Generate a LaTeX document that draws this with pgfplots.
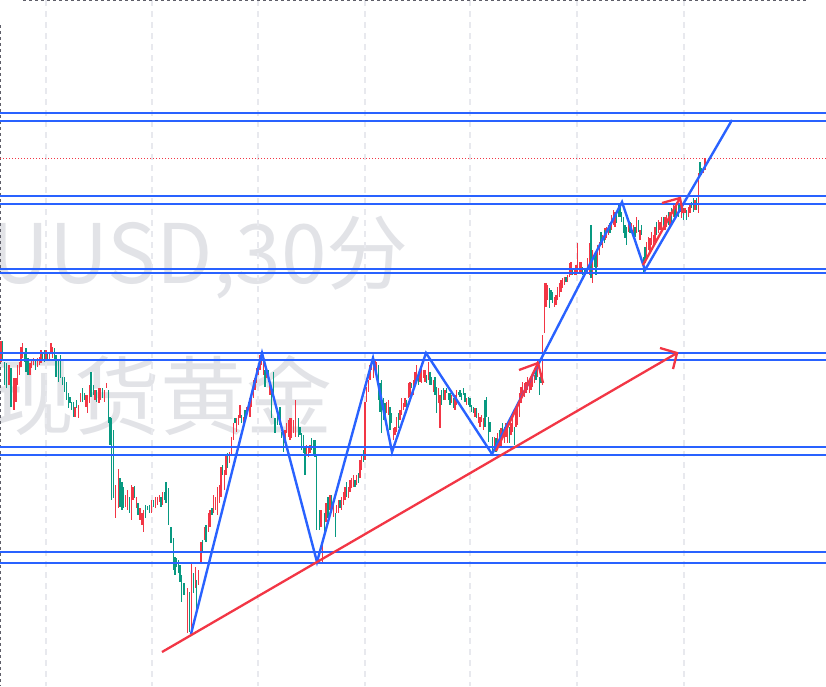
\documentclass[border=0pt]{standalone}
\usepackage{pgfplots}
\usepackage{pgfplotstable}
\usepackage{fontspec}
\pgfplotsset{compat=1.18}
\newfontfamily\cjk{Noto Sans CJK SC}
\definecolor{upc}{RGB}{242,54,69}
\definecolor{downc}{RGB}{8,153,129}
\definecolor{bluec}{RGB}{41,98,255}
\definecolor{gridc}{RGB}{232,233,238}
\definecolor{wmc}{RGB}{226,227,231}
\definecolor{framec}{RGB}{95,95,105}

\pgfplotstableread{
x t b
1 341 362
9 365 385
14 378 410
16 378 402
17.7 365 385
19.3 362 375
21 347 367
22.7 343 358
30 363 375
31.7 360 368
33.3 358 365
37.3 358 367
39.3 357 365
41 350 363
46 350 360
49.3 352 360
51 343 352
52.7 347 358
75 407 417
78.7 405 418
80.7 393 402
86 395 407
87.7 395 413
89.3 385 403
95 390 400
99 388 403
100.7 388 400
104.3 390 402
106.3 383 388
115.7 485 518
118.3 469 508
125.7 495 507
127.7 490 510
131.3 485 520
133 487 500
136.3 497 508
140 508 520
142 513 525
143.7 510 532
151.3 500 513
155.3 497 508
157.3 497 505
159.3 495 502
162.7 492 505
187.3 588 633
191.3 563 633
195.3 567 588
198.7 570 585
201 542 563
204.3 527 540
208.3 513 532
210 510 527
213.7 495 513
215.7 497 510
217.3 487 515
219.3 485 503
221 467 497
224.3 470 490
226 455 475
229.3 452 463
231.7 437 455
233.3 423 440
236.7 418 432
238.3 415 425
240 405 418
243.3 417 428
246.7 407 418
248.3 402 408
250 398 417
251.7 392 407
253.3 380 398
255 378 390
256.7 368 383
258.3 365 375
260 355 370
261.7 353 365
263.3 360 375
266.7 373 378
270 383 395
285 430 443
286.7 423 433
288.3 420 437
290 418 440
291.7 418 438
293.3 420 433
295.3 400 437
306.7 445 455
308.7 447 457
310 445 453
321 510 527
322.3 540 562
326 503 522
330 495 510
333.3 500 517
336.7 505 513
338.3 500 513
341.7 497 510
343.3 492 505
345 487 500
348.3 487 498
350 480 492
351.7 478 488
353.3 475 487
356.7 475 485
360 460 478
361.7 455 470
365 402 460
366.7 387 402
368.3 380 392
370 365 380
371.7 362 370
373.3 362 378
375 360 370
376.7 362 375
386.7 402 413
388.3 400 415
393.3 428 440
395 427 435
396.7 417 432
400 410 420
401.7 398 415
403.3 403 410
405 398 407
408.3 383 398
410 382 397
413.3 380 395
415 372 385
416.7 365 380
420 372 382
421.7 368 383
423.3 370 378
425 370 382
428.3 362 380
433.3 380 392
438.3 388 403
440 395 428
445 390 400
451.7 395 403
455 395 410
456.7 390 405
466.7 398 405
475 408 417
478.3 413 423
480 417 427
481.7 415 422
483.3 418 430
494.3 437 447
497.7 433 450
501 428 447
504.3 427 443
506 423 437
507.7 427 443
511 423 435
512.7 412 432
516 410 427
517.7 403 425
519.3 393 417
521 387 403
522.7 382 397
524.3 383 397
526 382 393
527.7 377 390
529.3 380 393
531 377 390
532.7 375 387
534.3 375 383
537.7 360 377
542.7 335 385
544.3 283 333
546 283 307
547.7 285 300
554.3 297 307
556 295 305
557.7 287 300
559.3 283 297
561 280 292
562.7 278 288
564.3 277 285
567.7 275 282
569.3 263 277
571 262 275
574.3 270 275
576 265 275
577.7 243 273
579.3 262 273
581 262 273
587.7 258 273
589.3 243 275
592.7 250 283
597.7 245 267
599.3 242 255
602.7 235 248
605 228 240
606.7 227 238
608.3 225 235
611.7 215 230
613.3 210 225
615 212 227
628.3 223 232
631.7 223 232
633.3 225 238
636.7 217 233
640 230 240
646.7 242 257
648.3 237 250
650 238 253
651.7 232 245
653.3 235 248
655 227 242
658.3 220 233
660 222 230
661.7 217 232
665 217 230
666.7 215 227
670 212 227
673.3 203 217
676.7 202 215
681.7 203 218
685 208 213
688.3 207 217
690 203 213
695 200 210
698.3 173 213
703.3 168 173
705 158 170
}\redbars

\pgfplotstableread{
x t b
2.7 341 361
4.5 362 385
6.5 363 388
11 368 407
24.3 352 362
26 348 372
28 358 375
35.3 359 370
42.7 353 360
44.3 350 362
47.7 353 360
54.3 348 360
56 355 377
58.3 360 382
60.7 355 378
62.7 377 385
64.3 377 392
66.7 382 400
68.3 393 408
70 397 403
71.7 402 410
73.3 402 417
76.7 400 408
82.7 388 402
84.3 393 400
91 372 397
93.3 385 395
96.7 390 402
102.7 388 398
108.3 390 423
110 417 445
111.7 418 500
113.3 430 498
120 478 507
122 482 510
123.7 487 508
129.3 497 513
134.7 486 498
138 503 515
145.7 505 518
147.7 506 510
149.3 505 513
153.3 500 507
161 497 507
164.3 492 500
166 482 503
168.3 488 525
171 527 543
173.3 538 570
175 557 575
176.7 558 567
178.3 560 573
180 565 582
181.7 575 602
184 583 595
189.3 592 632
193.3 573 593
196.7 580 613
202.7 540 553
206 525 542
212 508 515
222.7 465 475
227.7 453 468
235 418 423
241.7 415 423
245 410 422
265 370 387
268.3 370 382
271.7 393 418
273.3 372 398
275 418 433
277.3 410 425
280 407 425
281.7 432 438
283.3 433 452
298.3 418 437
300 427 435
301.7 433 450
303.3 435 453
305 447 475
311.7 438 450
313.3 440 455
315 440 457
316.7 455 530
319.3 510 530
324.3 513 537
328 497 518
331.7 495 507
335.3 513 537
340 500 508
346.7 482 497
355 480 487
358.3 473 483
363.3 450 462
378.3 365 400
380 383 412
381.7 380 433
383.3 398 420
385 403 417
390 407 430
391.7 413 423
398.3 413 428
406.7 400 407
411.7 383 388
418.3 377 385
426.7 375 383
430 372 385
431.7 377 385
435 377 395
436.7 387 413
441.7 390 405
443.3 388 400
446.7 388 393
448.3 393 400
450 393 405
453.3 398 408
458.3 392 395
460 390 397
461.7 393 400
463.3 388 395
465 393 402
468.3 397 405
470 398 407
471.7 405 412
473.3 407 413
476.7 408 418
485 400 427
486.7 397 417
488.3 417 442
490 422 432
492.7 437 452
496 438 452
499.3 430 443
502.7 423 437
509.3 427 443
514.3 427 445
536 367 380
539.3 377 395
541 373 383
549.3 288 308
551 290 300
552.7 292 303
566 277 282
572.7 268 275
582.7 267 275
584.3 268 277
586 268 272
591 225 278
594.3 255 267
596 252 275
601 232 245
604.3 230 243
610 223 233
616.7 212 223
618.3 203 217
620 205 217
621.7 212 222
623.3 217 233
625 225 238
626.7 227 245
630 222 233
635 227 237
638.3 220 232
641.7 225 235
643.3 257 273
645 247 263
656.7 222 235
663.3 217 230
668.3 212 225
671.7 208 223
675 207 218
678.3 203 217
680 205 212
683.3 208 220
686.7 210 220
691.7 202 208
693.3 198 212
696.7 198 210
700 162 175
701.7 168 175
}\greenbars

\begin{document}
\begin{tikzpicture}
\useasboundingbox (0,0) rectangle (826pt,686pt);
\clip (0,0) rectangle (826pt,686pt);
% watermark
\node[anchor=base east, inner sep=0pt, text=wmc, font=\cjk\fontsize{82}{88}\selectfont] at (409pt,402pt) {XAUUSD,30分};
\node[anchor=base east, inner sep=0pt, text=wmc, font=\cjk\fontsize{86}{90}\selectfont] at (333pt,258pt) {现货黄金};
\begin{axis}[
  at={(0,0)}, anchor=south west,
  scale only axis, width=826pt, height=686pt,
  xmin=0, xmax=826, ymin=0, ymax=686, y dir=reverse,
  axis line style={draw=none},
  xtick={46,152,258,365,470,577,684}, ytick=\empty,
  xticklabels={}, major tick length=0pt,
  xmajorgrids,
  grid style={draw=gridc, line width=1.3pt, dash pattern=on 6pt off 5pt},
  clip=true,
]
% frame dashes
\addplot[framec, line width=1.3pt, dash pattern=on 3pt off 3pt, forget plot] coordinates {(23,0.8) (806,0.8)};
\addplot[framec, line width=1.3pt, dash pattern=on 3pt off 3pt, forget plot] coordinates {(0.8,25) (0.8,686)};
% bars
\addplot[draw=none, mark=none, forget plot,
  error bars/.cd, y dir=plus, y explicit, error mark=none,
  error bar style={draw=upc, line width=1.3pt}]
  table[x=x, y=t, y error expr=\thisrow{b}-\thisrow{t}] {\redbars};
\addplot[draw=none, mark=none, forget plot,
  error bars/.cd, y dir=plus, y explicit, error mark=none,
  error bar style={draw=downc, line width=1.3pt}]
  table[x=x, y=t, y error expr=\thisrow{b}-\thisrow{t}] {\greenbars};
% red dotted level
\addplot[upc, line width=0.9pt, dash pattern=on 1pt off 2pt, forget plot] coordinates {(0,158) (826,158)};
% blue horizontal levels
\addplot[bluec, line width=2.5pt, forget plot] coordinates {(0,113) (826,113)};
\addplot[bluec, line width=2.5pt, forget plot] coordinates {(0,121) (826,121)};
\addplot[bluec, line width=2.5pt, forget plot] coordinates {(0,196) (826,196)};
\addplot[bluec, line width=2.5pt, forget plot] coordinates {(0,204) (826,204)};
\addplot[bluec, line width=2.5pt, forget plot] coordinates {(0,269) (826,269)};
\addplot[bluec, line width=2.5pt, forget plot] coordinates {(0,273) (826,273)};
\addplot[bluec, line width=2.5pt, forget plot] coordinates {(0,353) (826,353)};
\addplot[bluec, line width=2.5pt, forget plot] coordinates {(0,360) (826,360)};
\addplot[bluec, line width=2.5pt, forget plot] coordinates {(0,447) (826,447)};
\addplot[bluec, line width=2.5pt, forget plot] coordinates {(0,455) (826,455)};
\addplot[bluec, line width=2.5pt, forget plot] coordinates {(0,552) (826,552)};
\addplot[bluec, line width=2.5pt, forget plot] coordinates {(0,563) (826,563)};
% blue zigzag
\addplot[bluec, line width=2.4pt, line join=miter, forget plot] coordinates {
(191,634) (262,353) (317,562) (373,358) (392,452) (426,353) (492,454) (622,202) (645,270) (732,120)};
% red trend line with arrowhead
\addplot[upc, line width=2.3pt, forget plot] coordinates {(162,652) (677,353)};
\addplot[upc, line width=2.3pt, line join=miter, forget plot] coordinates {(660,348) (677,353) (673,369)};
% small red arrows
\addplot[upc, line width=2.3pt, forget plot] coordinates {(496,451) (538,363)};
\addplot[upc, line width=2.3pt, line join=miter, forget plot] coordinates {(519,370) (538,363) (543,383)};
\addplot[upc, line width=2.3pt, forget plot] coordinates {(643,265) (680,198)};
\addplot[upc, line width=2.3pt, line join=miter, forget plot] coordinates {(662,203) (680,198) (683,213)};
\end{axis}
\end{tikzpicture}
\end{document}
